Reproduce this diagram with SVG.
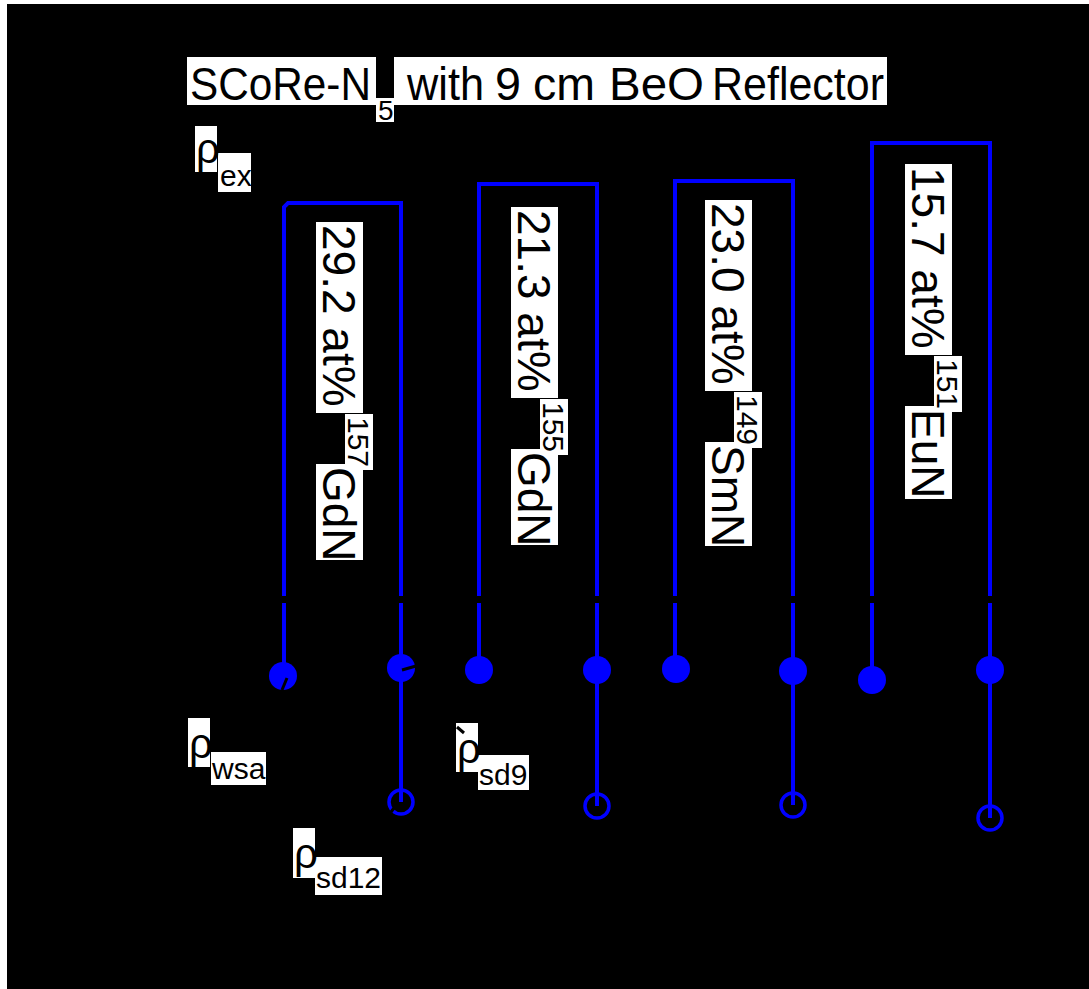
<svg xmlns="http://www.w3.org/2000/svg" width="1089" height="989" viewBox="0 0 1089 989">
<style>
text{font-family:"Liberation Sans",Arial,sans-serif;fill:#000}
.bx{fill:#fff}
.br{fill:none;stroke:#0000ff;stroke-width:4}
.ln{fill:none;stroke:#0000ff;stroke-width:4}
.dot{fill:#0000ff}
.oc{fill:none;stroke:#0000ff;stroke-width:3.5}
.nk{stroke:#000;stroke-width:3;fill:none}
.t{font-size:47px}
.m{font-size:46px}
.s{font-size:30px}
.r{font-size:42px}
.sub{font-size:30px}
</style>
<rect x="0" y="0" width="1089" height="989" fill="#fff"/>
<rect x="7" y="4" width="1082" height="985" fill="#000"/>

<g id="title">
<rect class="bx" x="187" y="57" width="189" height="48"/>
<rect class="bx" x="394" y="57" width="493" height="48"/>
<rect class="bx" x="376" y="98" width="18" height="24"/>
<text class="t" transform="translate(190,100) scale(0.9,1)">SCoRe-N</text>
<text x="378" y="120" font-size="28">5</text>
<text class="t" x="407" y="100" textLength="77" lengthAdjust="spacingAndGlyphs">with</text>
<text class="t" x="495" y="100" textLength="26" lengthAdjust="spacingAndGlyphs">9</text>
<text class="t" x="533" y="100" textLength="62" lengthAdjust="spacingAndGlyphs">cm</text>
<text class="t" x="609" y="100" textLength="95" lengthAdjust="spacingAndGlyphs">BeO</text>
<text class="t" x="712" y="100" textLength="172" lengthAdjust="spacingAndGlyphs">Reflector</text>
</g>

<g id="rho-ex">
<rect class="bx" x="195" y="126" width="22" height="46"/>
<rect class="bx" x="218" y="153" width="33" height="39"/>
<text class="r" x="196" y="163">ρ</text>
<text class="sub" x="220" y="186">ex</text>
</g>

<g id="rho-wsa">
<rect class="bx" x="188" y="718" width="22" height="49"/>
<rect class="bx" x="211" y="752" width="55" height="33"/>
<text class="r" x="189" y="758">ρ</text>
<text class="sub" x="212" y="779">wsa</text>
</g>

<g id="rho-sd9">
<rect class="bx" x="456" y="723" width="22" height="49"/>
<rect class="bx" x="478" y="755" width="51" height="35"/>
<text class="r" x="457" y="763">ρ</text>
<text class="sub" x="479" y="785">sd9</text>
<path class="nk" d="M457,727 L464,733"/>
</g>

<g id="rho-sd12">
<rect class="bx" x="293" y="828" width="22" height="50"/>
<rect class="bx" x="315" y="857" width="67" height="38"/>
<text class="r" x="294" y="868">ρ</text>
<text class="sub" x="316" y="888">sd12</text>
</g>

<g id="label-gd157" transform="translate(323,225) rotate(90)">
<rect class="bx" x="-3" y="-40" width="191" height="47"/>
<rect class="bx" x="189" y="-50" width="56" height="28"/>
<rect class="bx" x="239" y="-40" width="96" height="47"/>
<text class="m" x="0" y="0">29.2 at%</text>
<text class="s" x="192" y="-25">157</text>
<text class="m" x="242" y="0">GdN</text>
</g>

<g id="label-gd155" transform="translate(518,210) rotate(90)">
<rect class="bx" x="-3" y="-40" width="191" height="47"/>
<rect class="bx" x="189" y="-50" width="56" height="28"/>
<rect class="bx" x="239" y="-40" width="96" height="47"/>
<text class="m" x="0" y="0">21.3 at%</text>
<text class="s" x="192" y="-25">155</text>
<text class="m" x="242" y="0">GdN</text>
</g>

<g id="label-sm149" transform="translate(712,203) rotate(90)">
<rect class="bx" x="-3" y="-40" width="191" height="47"/>
<rect class="bx" x="189" y="-50" width="56" height="28"/>
<rect class="bx" x="239" y="-40" width="104" height="47"/>
<text class="m" x="0" y="0">23.0 at%</text>
<text class="s" x="192" y="-25">149</text>
<text class="m" x="242" y="0">SmN</text>
</g>

<g id="label-eu151" transform="translate(912,167) rotate(90)">
<rect class="bx" x="-3" y="-40" width="191" height="47"/>
<rect class="bx" x="189" y="-50" width="56" height="28"/>
<rect class="bx" x="239" y="-40" width="93" height="47"/>
<text class="m" x="0" y="0">15.7 at%</text>
<text class="s" x="192" y="-25">151</text>
<text class="m" x="242" y="0">EuN</text>
</g>

<g id="connectors">
<path class="br" d="M284,596 V207 L288,203 H401 V596"/>
<path class="br" d="M479,596 V184 H597 V596"/>
<path class="br" d="M675,596 V181 H793 V596"/>
<path class="br" d="M872,596 V143 H990 V596"/>
<path class="ln" d="M284,603 V676 M401,603 V802 M479,603 V670 M597,603 V806 M675,603 V669 M793,603 V805 M872,603 V680 M990,603 V818"/>
</g>

<g id="dot-gd157-left"><circle class="dot" cx="283" cy="676" r="14"/><path class="nk" d="M287,678 L282,690"/></g>
<g id="dot-gd157-right"><circle class="dot" cx="401" cy="668" r="14"/><path class="nk" d="M402,670 L416,666"/></g>
<g id="dot-gd155-left"><circle class="dot" cx="479" cy="670" r="14"/></g>
<g id="dot-gd155-right"><circle class="dot" cx="597" cy="670" r="14"/></g>
<g id="dot-sm149-left"><circle class="dot" cx="676" cy="669" r="14"/></g>
<g id="dot-sm149-right"><circle class="dot" cx="793" cy="671" r="14"/></g>
<g id="dot-eu151-left"><circle class="dot" cx="872" cy="680" r="14"/></g>
<g id="dot-eu151-right"><circle class="dot" cx="990" cy="670" r="14"/></g>

<g id="ring-gd157"><circle class="oc" cx="401" cy="802" r="12"/><path class="nk" d="M397,804 L391,812"/></g>
<g id="ring-gd155"><circle class="oc" cx="597" cy="806" r="12"/></g>
<g id="ring-sm149"><circle class="oc" cx="793" cy="805" r="12"/></g>
<g id="ring-eu151"><circle class="oc" cx="990" cy="818" r="12"/></g>
</svg>
